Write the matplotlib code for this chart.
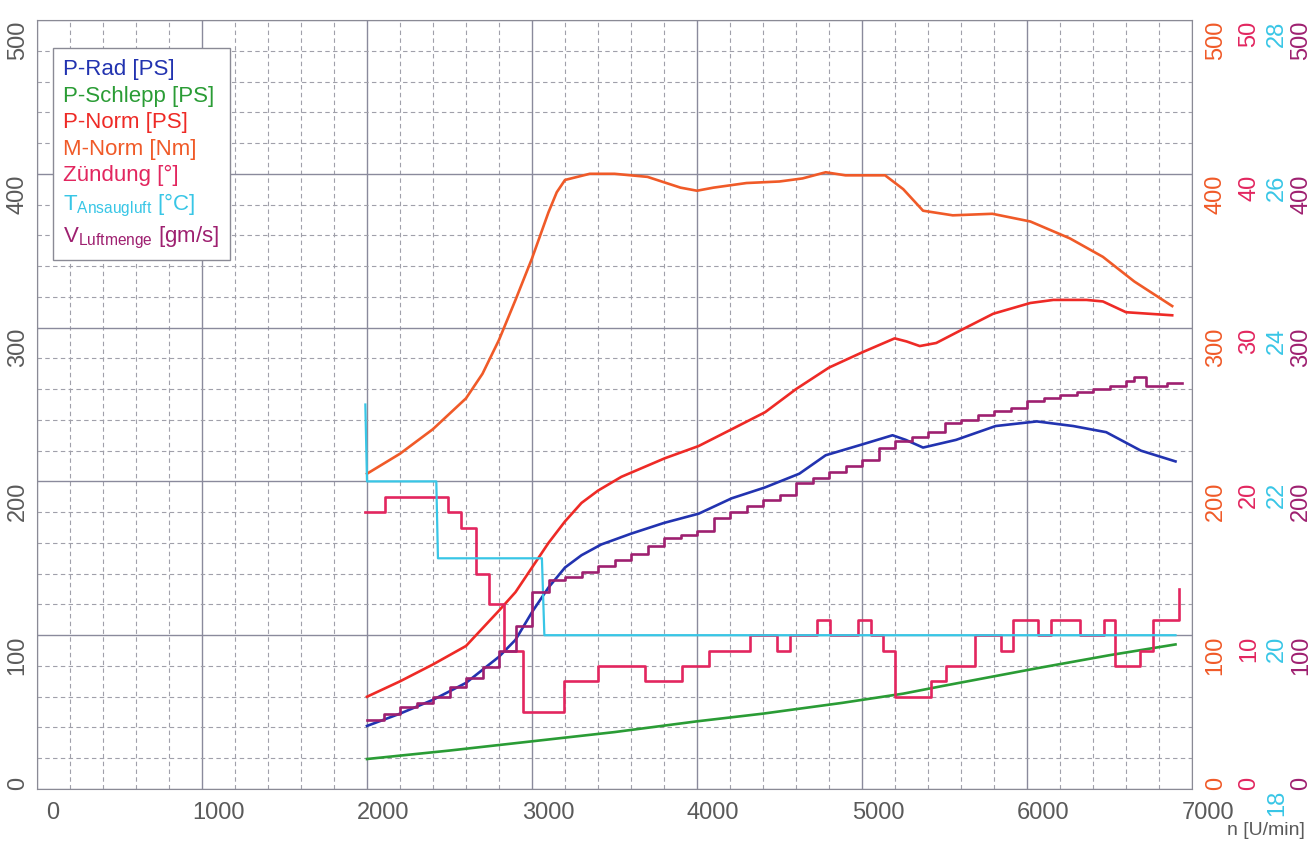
import matplotlib
matplotlib.use("Agg")
import matplotlib.pyplot as plt
import matplotlib.transforms as mtrans

plt.rcParams['font.family'] = ['Liberation Sans', 'DejaVu Sans']
plt.rcParams['mathtext.fontset'] = 'custom'
plt.rcParams['mathtext.rm'] = 'Liberation Sans'

# --- data (x = n [U/min]) ---
p_rad_x = [2000, 2200, 2400, 2600, 2800, 2900, 3000, 3100, 3200, 3300, 3420, 3600, 3800, 4010,
           4210, 4410, 4620, 4780, 5000, 5185, 5265, 5370, 5570, 5810, 6060, 6280, 6480, 6690, 6900]
p_rad = [41, 49, 58, 69, 86, 97, 115, 131, 144, 152, 159, 166, 173, 179,
         189, 196, 205, 217, 224, 230, 227, 222, 227, 236, 239, 236, 232, 220, 213]

p_schlepp_x = [2000, 2500, 3000, 3500, 4000, 4400, 4880, 5250, 5490, 6060, 6500, 6900]
p_schlepp = [19.5, 25, 31, 37, 44, 49, 56, 62, 67, 78.5, 87, 94]

p_norm_x = [2000, 2200, 2400, 2600, 2800, 2900, 3000, 3100, 3200, 3300, 3400, 3542, 3804, 4010,
            4212, 4413, 4600, 4800, 5003, 5198, 5270, 5350, 5450, 5612, 5795, 6020, 6160, 6360,
            6460, 6600, 6880]
p_norm = [60, 70, 81, 93, 116, 128, 144, 160, 174, 186, 194, 203, 215, 223,
          234, 245, 260, 274, 284, 293, 291, 288, 290, 299, 309, 316, 318, 318,
          317, 310, 308]

m_norm_x = [2000, 2200, 2400, 2600, 2700, 2800, 2900, 3000, 3100, 3150, 3200, 3350, 3500, 3700,
            3900, 4000, 4100, 4300, 4500, 4640, 4780, 4900, 5140, 5250, 5370, 5550, 5790, 6020,
            6260, 6460, 6650, 6880]
m_norm = [205, 218, 234, 254, 270, 292, 318, 345, 375, 388, 396, 400, 400, 398,
          391, 389, 391, 394, 395, 397, 401, 399, 399, 390, 376, 373, 374, 369,
          358, 346, 330, 314]

zuend_x = [1990, 2112, 2489, 2569, 2660, 2739, 2830, 2946, 3196, 3400, 3683, 3907, 4070, 4322,
           4486, 4565, 4729, 4808, 4973, 5052, 5125, 5198, 5420, 5508, 5685, 5845, 5916, 6068,
           6147, 6324, 6464, 6531, 6683, 6762, 6920]
zuend = [18, 19, 18, 17, 14, 12, 9, 5, 7, 8, 7, 8, 9, 10,
         9, 10, 11, 10, 11, 10, 9, 6, 7, 8, 10, 9, 11, 10,
         11, 10, 11, 8, 9, 11, 13]

t_luft_x = [1990, 2000, 2420, 2430, 3060, 3075, 6900]
t_luft = [23.0, 22.0, 22.0, 21.0, 21.0, 20.0, 20.0]

v_luft_x = [2000, 2100, 2200, 2300, 2400, 2500, 2600, 2700, 2800, 2900, 3000, 3100, 3200, 3300,
            3400, 3500, 3600, 3700, 3800, 3900, 4000, 4100, 4200, 4300, 4400, 4500, 4600, 4700,
            4800, 4900, 5000, 5100, 5200, 5300, 5400, 5500, 5600, 5700, 5800, 5900, 6000, 6100,
            6200, 6300, 6400, 6500, 6600, 6650, 6720, 6850, 6940]
v_luft = [45, 49, 53, 56, 60, 66, 72, 79, 90, 106, 128, 136, 138, 141,
          145, 149, 153, 158, 163, 165, 168, 176, 180, 184, 188, 191, 199, 202,
          206, 210, 214, 222, 226, 229, 232, 238, 240, 243, 246, 248, 252, 254,
          256, 258, 260, 262, 265, 268, 262, 264, 264]

c_blue = '#2233b0'
c_green = '#2a9c35'
c_red = '#ee2a26'
c_orange = '#f05a28'
c_pink = '#e2265f'
c_cyan = '#38c6e6'
c_purple = '#9e2070'
c_text = '#5a5a5a'

fig = plt.figure(figsize=(13.1, 8.45), dpi=100)
ax = fig.add_axes([37 / 1310, 1 - 790 / 845, 1155 / 1310, 769 / 845])

ax.set_xlim(0, 7000)
ax.set_ylim(0, 500)
ax.set_xticks(range(0, 7001, 1000))
ax.set_xticks(range(0, 7001, 200), minor=True)
ax.set_yticks(range(0, 501, 100))
ax.set_yticks(range(0, 501, 20), minor=True)
ax.grid(which='major', color='#8a8a9c', lw=1.0, ls='-')
ax.grid(which='minor', color='#a0a0aa', lw=0.8, ls=(0, (4, 3)))
ax.set_axisbelow(True)
for s in ax.spines.values():
    s.set_color('#8a8a95')
ax.tick_params(which='both', length=0)
ax.tick_params(axis='x', labelsize=17, labelcolor=c_text, pad=9)
ax.tick_params(axis='y', labelsize=17, labelcolor=c_text, labelrotation=90, pad=6)

# shift tick labels a bit like in the scanned original
dx = mtrans.ScaledTranslation(16 / 100, 0, fig.dpi_scale_trans)
for lbl in ax.get_xticklabels():
    lbl.set_transform(lbl.get_transform() + dx)


def shift_ylabels(a, first_dy=5):
    for i, lbl in enumerate(a.get_yticklabels()):
        off = first_dy if i == 0 else -8
        lbl.set_transform(lbl.get_transform()
                          + mtrans.ScaledTranslation(0, off / 100, fig.dpi_scale_trans))


shift_ylabels(ax)

h_rad, = ax.plot(p_rad_x, p_rad, color=c_blue, lw=1.9)
h_schlepp, = ax.plot(p_schlepp_x, p_schlepp, color=c_green, lw=1.9)
h_norm, = ax.plot(p_norm_x, p_norm, color=c_red, lw=1.9)


def make_twin(lim, ticks, color, pos, first_dy=5):
    t = ax.twinx()
    t.set_ylim(*lim)
    t.set_yticks(ticks)
    for s in t.spines.values():
        s.set_visible(False)
    t.spines['right'].set_position(('axes', pos))
    t.tick_params(axis='y', length=0, pad=0, labelsize=17, labelcolor=color, labelrotation=90)
    shift_ylabels(t, first_dy)
    return t


ax_m = make_twin((0, 500), range(0, 501, 100), c_orange, 1.011)
ax_z = make_twin((0, 50), range(0, 51, 10), c_pink, 1.040)
ax_t = make_twin((18, 28), range(18, 29, 2), c_cyan, 1.064, first_dy=-8)
ax_v = make_twin((0, 500), range(0, 501, 100), c_purple, 1.085)

h_m, = ax_m.plot(m_norm_x, m_norm, color=c_orange, lw=1.9)
h_z, = ax_z.plot(zuend_x, zuend, color=c_pink, lw=1.9, drawstyle='steps-post')
h_t, = ax_t.plot(t_luft_x, t_luft, color=c_cyan, lw=1.6)
h_v, = ax_v.plot(v_luft_x, v_luft, color=c_purple, lw=1.9, drawstyle='steps-post')

labels = ['P-Rad [PS]', 'P-Schlepp [PS]', 'P-Norm [PS]', 'M-Norm [Nm]', 'Zündung [°]',
          'T$_{\\mathregular{Ansaugluft}}$ [°C]', 'V$_{\\mathregular{Luftmenge}}$ [gm/s]']
handles = [h_rad, h_schlepp, h_norm, h_m, h_z, h_t, h_v]
leg = ax_v.legend(handles, labels, loc='upper left', bbox_to_anchor=(0.0139, 0.9636),
                  borderaxespad=0, fontsize=16, handlelength=0, handletextpad=0,
                  labelspacing=0.25, fancybox=False, framealpha=1, edgecolor='#8a8a95',
                  borderpad=0.45)
leg.get_frame().set_linewidth(1.0)
for txt, h in zip(leg.get_texts(), handles):
    txt.set_color(h.get_color())
for h in leg.legend_handles:
    h.set_visible(False)

fig.text(1305 / 1310, 1 - 831 / 845, 'n [U/min]', ha='right', va='center',
         fontsize=14, color=c_text)

fig.savefig('out.png', dpi=100, facecolor='white')
